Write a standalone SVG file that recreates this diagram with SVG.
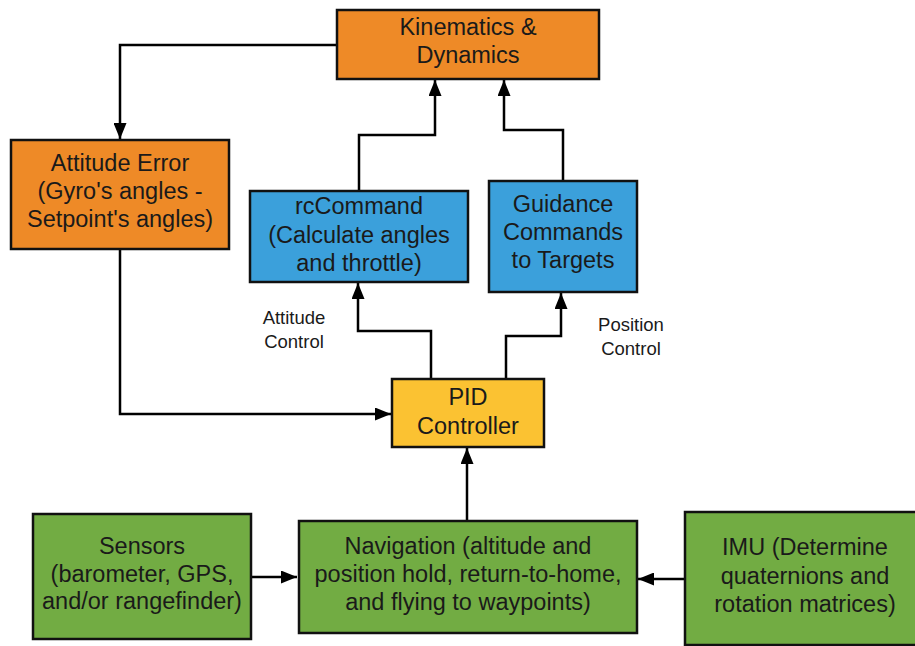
<svg xmlns="http://www.w3.org/2000/svg" width="915" height="646" viewBox="0 0 915 646">
  <defs>
    <marker id="arrow" viewBox="0 0 16 13" refX="16" refY="6.5" markerWidth="16" markerHeight="13" markerUnits="userSpaceOnUse" orient="auto">
      <path d="M0,0 L16,6.5 L0,13 Z" fill="#000"/>
    </marker>
    <style>
      .box { stroke: #111; stroke-width: 2.5; }
      .orange { fill: #EE8A27; }
      .blue { fill: #3BA0DB; }
      .yellow { fill: #FBC232; }
      .green { fill: #72AC43; }
      .label { font-family: "Liberation Sans", Arial, sans-serif; font-size: 23.5px; fill: #1a1a1a; text-anchor: middle; }
      .small { font-family: "Liberation Sans", Arial, sans-serif; font-size: 18.5px; fill: #1a1a1a; text-anchor: middle; }
      .wire { fill: none; stroke: #000; stroke-width: 2.5; marker-end: url(#arrow); }
    </style>
  </defs>
  <rect width="915" height="646" fill="#fff"/>

  <g id="connectors">
    <polyline class="wire" points="337,45 120,45 120,139"/>
    <polyline class="wire" points="359,191 359,135 435,135 435,80"/>
    <polyline class="wire" points="563,181 563,130 504,130 504,80"/>
    <polyline class="wire" points="431,379 431,331 358,331 358,283"/>
    <polyline class="wire" points="506,379 506,336 561,336 561,293"/>
    <polyline class="wire" points="120,249 120,414 391,414"/>
    <polyline class="wire" points="467,521 467,448"/>
    <polyline class="wire" points="251,577 297,577"/>
    <polyline class="wire" points="685,579 638,579"/>
  </g>

  <g id="kinematics">
    <rect class="box orange" x="337" y="10" width="262" height="69"/>
    <text class="label" x="468" y="35">Kinematics &amp;</text>
    <text class="label" x="468" y="63">Dynamics</text>
  </g>

  <g id="attitude-error">
    <rect class="box orange" x="11" y="140" width="218" height="109"/>
    <text class="label" x="120" y="171">Attitude Error</text>
    <text class="label" x="120" y="199">(Gyro's angles -</text>
    <text class="label" x="120" y="227">Setpoint's angles)</text>
  </g>

  <g id="rccommand">
    <rect class="box blue" x="250" y="191" width="218" height="91"/>
    <text class="label" x="359" y="214">rcCommand</text>
    <text class="label" x="359" y="243">(Calculate angles</text>
    <text class="label" x="359" y="271">and throttle)</text>
  </g>

  <g id="guidance">
    <rect class="box blue" x="489" y="181" width="148" height="111"/>
    <text class="label" x="563" y="212">Guidance</text>
    <text class="label" x="563" y="240">Commands</text>
    <text class="label" x="563" y="268">to Targets</text>
  </g>

  <g id="attitude-control-label">
    <text class="small" x="294" y="324">Attitude</text>
    <text class="small" x="294" y="348">Control</text>
  </g>

  <g id="position-control-label">
    <text class="small" x="631" y="331">Position</text>
    <text class="small" x="631" y="355">Control</text>
  </g>

  <g id="pid">
    <rect class="box yellow" x="392" y="379" width="152" height="68"/>
    <text class="label" x="468" y="405">PID</text>
    <text class="label" x="468" y="434">Controller</text>
  </g>

  <g id="sensors">
    <rect class="box green" x="33" y="514" width="218" height="125"/>
    <text class="label" x="142" y="554">Sensors</text>
    <text class="label" x="142" y="582">(barometer, GPS,</text>
    <text class="label" x="142" y="609">and/or rangefinder)</text>
  </g>

  <g id="navigation">
    <rect class="box green" x="299" y="521" width="338" height="112"/>
    <text class="label" x="468" y="554">Navigation (altitude and</text>
    <text class="label" x="468" y="582">position hold, return-to-home,</text>
    <text class="label" x="468" y="610">and flying to waypoints)</text>
  </g>

  <g id="imu">
    <rect class="box green" x="685" y="512" width="245" height="133"/>
    <text class="label" x="805" y="555">IMU (Determine</text>
    <text class="label" x="805" y="584">quaternions and</text>
    <text class="label" x="805" y="612">rotation matrices)</text>
  </g>
</svg>
